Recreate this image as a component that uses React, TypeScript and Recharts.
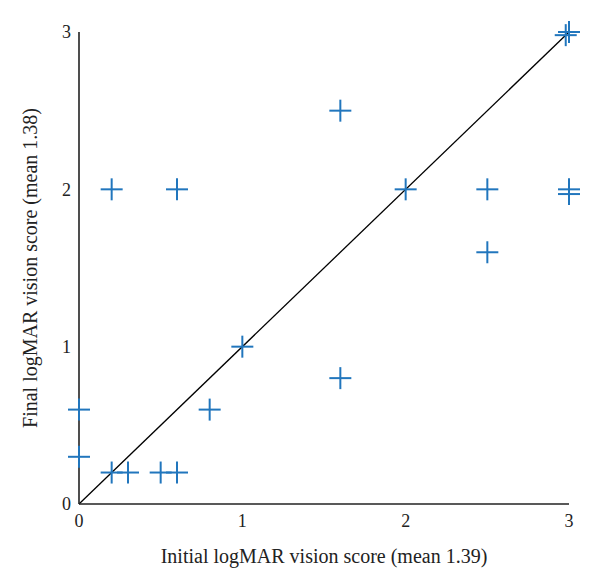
import React from "react";
import { ScatterChart, Scatter, XAxis, YAxis, ReferenceLine } from "recharts";

const initialScores = [0.2, 0.6, 1.6, 2.0, 2.5, 2.5, 3.0, 3.0, 2.98, 3.0, 0.0, 0.0, 0.2, 0.3, 0.5, 0.6, 0.8, 1.0, 1.6];
const finalScores = [2.0, 2.0, 2.5, 2.0, 2.0, 1.6, 2.0, 1.97, 2.98, 3.0, 0.6, 0.3, 0.2, 0.2, 0.2, 0.2, 0.6, 1.0, 0.8];
const axisTicks = [0, 1, 2, 3];
const xTitle = "Initial logMAR vision score (mean 1.39)";
const yTitle = "Final logMAR vision score (mean 1.38)";

const data = initialScores.map((x, i) => ({ x, y: finalScores[i] }));

const FONT = "'Liberation Serif', 'DejaVu Serif', serif";
const BLUE = "#2176bd";

const Cross = (props: any) => {
  const { cx, cy } = props;
  if (cx == null || cy == null) return null;
  const h = 11;
  return (
    <g>
      <line x1={cx - h} y1={cy} x2={cx + h} y2={cy} stroke={BLUE} strokeWidth={2} />
      <line x1={cx} y1={cy - h} x2={cx} y2={cy + h} stroke={BLUE} strokeWidth={2} />
    </g>
  );
};

export default function App() {
  return (
    <ScatterChart
      width={592}
      height={579}
      margin={{ top: 24, right: 31, left: 0, bottom: 0 }}
      style={{ fontFamily: FONT }}
    >
      <XAxis
        type="number"
        dataKey="x"
        domain={[0, 3]}
        ticks={axisTicks}
        height={83}
        tickLine={false}
        tickMargin={4}
        axisLine={{ stroke: "#222", strokeWidth: 1.6 }}
        tick={{ fill: "#222", fontSize: 18, fontFamily: FONT }}
        label={{ value: xTitle, position: "insideBottom", offset: 24, fill: "#222", fontSize: 20, fontFamily: FONT }}
      />
      <YAxis
        type="number"
        dataKey="y"
        domain={[0, 3]}
        ticks={axisTicks}
        width={71}
        tickLine={false}
        axisLine={{ stroke: "#222", strokeWidth: 1.6 }}
        tick={{ fill: "#222", fontSize: 18, fontFamily: FONT }}
        label={{ value: yTitle, angle: -90, position: "insideLeft", offset: 22, fill: "#222", fontSize: 20, fontFamily: FONT, style: { textAnchor: "middle" } }}
      />
      <ReferenceLine
        segment={[{ x: 0, y: 0 }, { x: 3, y: 3 }]}
        stroke="#000"
        strokeWidth={1.3}
        ifOverflow="visible"
      />
      <Scatter data={data} shape={<Cross />} isAnimationActive={false} />
    </ScatterChart>
  );
}
